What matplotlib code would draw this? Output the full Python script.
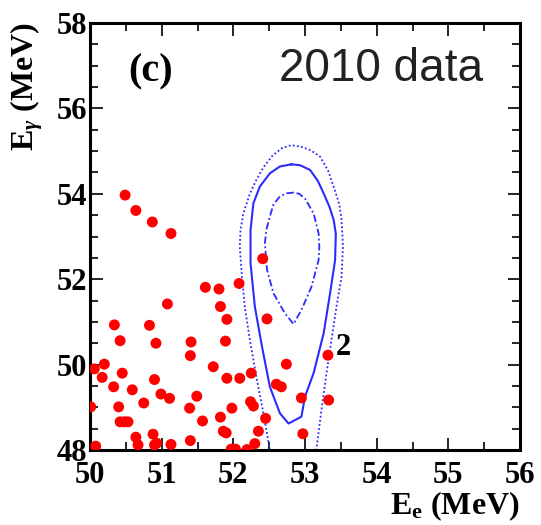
import matplotlib
matplotlib.use("Agg")
import matplotlib.pyplot as plt
from matplotlib.ticker import MultipleLocator

plt.rcParams['font.family'] = 'Liberation Serif'
plt.rcParams['font.weight'] = 'bold'
plt.rcParams['mathtext.fontset'] = 'custom'
plt.rcParams['mathtext.rm'] = 'Liberation Serif:bold'
plt.rcParams['mathtext.it'] = 'Liberation Serif:italic:bold'
plt.rcParams['mathtext.bf'] = 'Liberation Serif:bold'

# events (E_e, E_gamma) in MeV
ee = [50.49, 50.64, 50.87, 51.13, 51.61, 51.08, 50.34, 50.83, 50.42, 50.92,
      51.41, 51.40, 50.20, 50.06, 51.72, 50.45, 50.17, 50.90, 50.33, 50.59,
      50.99, 51.11, 51.49, 50.01, 50.40, 50.75, 51.39, 51.57, 50.42, 50.48,
      50.53, 50.64, 50.88, 51.40, 50.08, 50.67, 50.90, 50.93, 51.13, 52.41,
      52.08, 51.80, 51.82, 51.91, 52.47, 51.89, 52.74, 51.91, 52.09, 52.25,
      52.60, 52.67, 51.98, 52.24, 52.28, 51.82, 52.45, 51.86, 51.90, 52.35,
      52.30, 51.97, 52.03, 52.19, 53.32, 52.95, 53.33, 52.97]
eg = [53.97, 53.61, 53.34, 53.07, 51.81, 51.42, 50.93, 50.92, 50.56, 50.50,
      50.53, 50.21, 50.01, 49.90, 49.95, 49.80, 49.70, 49.65, 49.48, 49.41,
      49.31, 49.21, 49.26, 49.01, 49.01, 49.10, 48.98, 48.68, 48.66, 48.66,
      48.66, 48.30, 48.37, 48.22, 48.09, 48.12, 48.12, 48.16, 48.13, 52.48,
      51.90, 51.77, 51.36, 51.06, 51.07, 50.55, 50.01, 49.68, 49.68, 49.80,
      49.54, 49.48, 48.98, 49.13, 49.03, 48.77, 48.74, 48.44, 48.40, 48.44,
      48.15, 48.02, 48.02, 48.01, 50.22, 49.22, 49.17, 48.38]

# signal PDF contours
outer_x = [52.52, 52.42, 52.33, 52.23, 52.16, 52.12, 52.09, 52.10, 52.14, 52.23,
           52.32, 52.42, 52.55, 52.68, 52.81, 52.95, 53.08, 53.21, 53.32, 53.40,
           53.48, 53.51, 53.53, 53.51, 53.44, 53.37, 53.30, 53.23, 53.15]
outer_y = [47.90, 48.86, 49.64, 50.58, 51.36, 52.06, 52.76, 53.15, 53.54, 54.00,
           54.32, 54.62, 54.90, 55.07, 55.14, 55.10, 55.02, 54.87, 54.55, 54.17,
           53.75, 53.39, 52.76, 52.06, 51.36, 50.58, 49.80, 48.94, 47.90]
mid_x = [52.81, 52.93, 53.07, 53.18, 53.26, 53.34, 53.40, 53.43, 53.42, 53.35,
         53.26, 53.12, 53.00, 52.95, 52.77, 52.65, 52.51, 52.40, 52.30, 52.24,
         52.24, 52.28, 52.37, 52.51, 52.65, 52.81]
mid_y = [54.69, 54.67, 54.56, 54.30, 54.01, 53.70, 53.39, 53.07, 52.45, 51.67,
         50.73, 49.80, 49.25, 48.78, 48.62, 48.86, 49.48, 50.42, 51.36, 52.37,
         53.15, 53.78, 54.17, 54.48, 54.64, 54.69]
inner_x = [52.84, 52.74, 52.65, 52.56, 52.51, 52.46, 52.44, 52.47, 52.56, 52.72,
           52.84, 52.95, 53.09, 53.19, 53.20, 53.19, 53.12, 53.00, 52.92, 52.84]
inner_y = [54.03, 54.01, 53.94, 53.75, 53.47, 53.15, 52.84, 52.22, 51.67, 51.20,
           50.95, 51.28, 51.82, 52.45, 52.75, 53.07, 53.54, 53.89, 54.00, 54.03]

fig = plt.figure(figsize=(5.41, 5.25), dpi=100)
ax = fig.add_axes([90 / 541, 75 / 525, 430 / 541, 427 / 525])

ax.plot(outer_x, outer_y, color='#2b2bff', lw=1.3, ls=(0, (1, 1.3)))
ax.plot(mid_x, mid_y, color='#2b2bff', lw=1.5, ls='-')
ax.plot(inner_x, inner_y, color='#2b2bff', lw=1.3, ls=(0, (4, 1.5, 1, 1.5)))
ax.scatter(ee, eg, s=62, color='red', edgecolors='none', zorder=3)

ax.set_xlim(50, 56)
ax.set_ylim(48, 58)
ax.xaxis.set_major_locator(MultipleLocator(1))
ax.xaxis.set_minor_locator(MultipleLocator(0.5))
ax.yaxis.set_major_locator(MultipleLocator(2))
ax.yaxis.set_minor_locator(MultipleLocator(0.5))
ax.tick_params(which='both', direction='in', top=True, right=True, width=1.2)
ax.tick_params(which='major', length=9, labelsize=22)
ax.tick_params(which='minor', length=6)
ax.tick_params(axis='x', pad=8)
ax.tick_params(axis='y', pad=2)
for s in ax.spines.values():
    s.set_linewidth(2.2)

fig.text(520 / 541, 1 - 514 / 525, r'E$_{\mathrm{e}}$ (MeV)', fontsize=23,
         weight='bold', ha='right', va='baseline')
fig.text(27 / 541, 1 - 22 / 525, r'E$_{\gamma}$ (MeV)', fontsize=23,
         weight='bold', rotation=90, ha='center', va='top')

ax.text(50.85, 56.85, '(c)', fontsize=29, ha='center', va='center')
ax.text(53.54, 50.41, '2', fontsize=22, ha='center', va='center')
ax.text(54.06, 56.65, '2010 data', fontsize=33, family='Liberation Sans',
        weight='normal', color='#222222', ha='center', va='baseline')

fig.savefig('out.png', dpi=100)
